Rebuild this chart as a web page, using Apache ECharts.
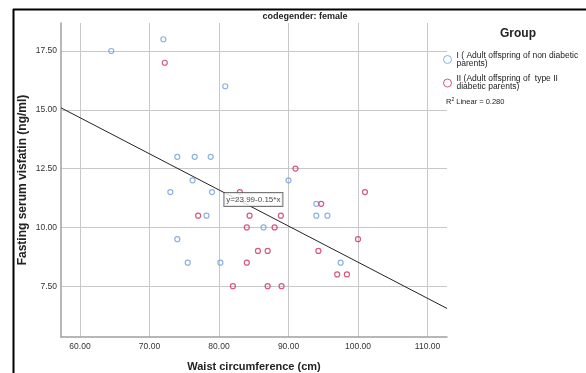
<!DOCTYPE html>
<html>
<head>
<meta charset="utf-8">
<script src="https://cdn.jsdelivr.net/npm/echarts@6/dist/echarts.min.js"></script>
<style>
html, body { margin: 0; padding: 0; background: #fff; }
#chart { width: 586px; height: 373px; }
</style>
</head>
<body>
<div id="chart"></div>
<script>
// data
var groupNames = ['I ( Adult offspring of non diabetic\nparents)', 'II (Adult offspring of  type II\ndiabetic parents)'];
var groupI = [
    [64.5, 17.5], [72.0, 18.0], [80.9, 16.0], [74.0, 13.0], [76.5, 13.0], [78.8, 13.0],
    [76.2, 12.0], [73.0, 11.5], [79.0, 11.5], [78.2, 10.5], [74.0, 9.5], [75.5, 8.5],
    [80.2, 8.5], [90.0, 12.0], [94.0, 11.0], [94.0, 10.5], [95.6, 10.5], [86.4, 10.0],
    [97.5, 8.5]
];
var groupII = [
    [72.2, 17.0], [77.0, 10.5], [82.0, 7.5], [91.0, 12.5], [83.0, 11.5], [101.0, 11.5],
    [94.7, 11.0], [84.4, 10.5], [88.9, 10.5], [84.0, 10.0], [88.0, 10.0], [100.0, 9.5],
    [85.6, 9.0], [87.0, 9.0], [94.3, 9.0], [84.0, 8.5], [97.0, 8.0], [98.4, 8.0],
    [87.0, 7.5], [89.0, 7.5]
];
var xTicks = [60, 70, 80, 90, 100, 110];
var yTicks = [7.5, 10, 12.5, 15, 17.5];
var xRange = [57.27, 112.8];
var yRange = [5.34, 18.69];
var fitIntercept = 23.88;
var fitSlope = -0.1536;
var fitLabelX = 80.7;
var fitLabel = 'y=23.99-0.15*x';
var r2Value = '0.280';

var colors = ['#6f9fd8', '#cc2f5c'];
var narrow = '"Liberation Sans", Arial, sans-serif';

function fitY(x) { return fitIntercept + fitSlope * x; }

var chart = echarts.init(document.getElementById('chart'));

var option = {
    animation: false,
    textStyle: { fontFamily: narrow },
    grid: { left: 61, top: 23, right: 139, bottom: 36, outerBoundsMode: 'none' },
    title: {
        text: 'codegender: female',
        left: 300,
        top: 7,
        textAlign: 'center',
        textStyle: { fontSize: 9, fontWeight: 'bold', color: '#222', fontFamily: narrow }
    },
    legend: {
        orient: 'vertical',
        left: 443,
        top: 51,
        padding: 0,
        itemGap: 6.5,
        itemWidth: 8,
        itemHeight: 8,
        icon: 'circle',
        selectedMode: false,
        itemStyle: { color: 'transparent', borderWidth: 1 },
        textStyle: { fontSize: 8.5, lineHeight: 8, color: '#222', fontFamily: narrow },
        data: groupNames
    },
    xAxis: {
        type: 'value',
        min: xRange[0],
        max: xRange[1],
        name: 'Waist circumference (cm)',
        nameLocation: 'middle',
        nameGap: 24,
        nameMoveOverlap: false,
        nameTextStyle: { fontSize: 11, fontWeight: 'bold', color: '#222' },
        axisLine: { show: true, lineStyle: { color: '#a0a0a0', width: 1.5 } },
        axisTick: { show: false, customValues: xTicks },
        axisLabel: {
            customValues: xTicks,
            fontSize: 8.5,
            color: '#333',
            margin: 5,
            formatter: function (v) { return v.toFixed(2); }
        },
        splitLine: { show: true, lineStyle: { color: '#c8c8c8', width: 1 } }
    },
    yAxis: {
        type: 'value',
        min: yRange[0],
        max: yRange[1],
        name: 'Fasting serum visfatin (ng/ml)',
        nameLocation: 'middle',
        nameGap: 32,
        nameMoveOverlap: false,
        nameTextStyle: { fontSize: 12, fontWeight: 'bold', color: '#222' },
        axisLine: { show: true, lineStyle: { color: '#a0a0a0', width: 1.5 } },
        axisTick: { show: false, customValues: yTicks },
        axisLabel: {
            customValues: yTicks,
            fontSize: 8.5,
            color: '#333',
            margin: 4,
            formatter: function (v) { return v.toFixed(2); }
        },
        splitLine: { show: true, lineStyle: { color: '#c8c8c8', width: 1 } }
    },
    series: [
        {
            name: groupNames[0],
            type: 'scatter',
            symbol: 'circle',
            symbolSize: 5,
            itemStyle: { color: 'transparent', borderColor: colors[0], borderWidth: 1.2 },
            data: groupI
        },
        {
            name: groupNames[1],
            type: 'scatter',
            symbol: 'circle',
            symbolSize: 5,
            itemStyle: { color: 'transparent', borderColor: colors[1], borderWidth: 1.2 },
            data: groupII
        },
        {
            name: 'fit',
            type: 'line',
            showSymbol: false,
            silent: true,
            lineStyle: { color: '#222', width: 1 },
            data: [[xRange[0], fitY(xRange[0])], [xRange[1], fitY(xRange[1])]]
        },
        {
            name: 'fitLabel',
            type: 'scatter',
            symbolSize: 1,
            z: 10,
            itemStyle: { color: 'transparent' },
            label: {
                show: true,
                position: [0, 0],
                offset: [1, 1],
                formatter: fitLabel,
                fontSize: 8,
                color: '#111',
                backgroundColor: '#fff',
                borderColor: '#555',
                borderWidth: 1,
                padding: [3, 2, 2, 2]
            },
            data: [[fitLabelX, fitY(fitLabelX)]]
        }
    ],
    graphic: [
        {
            type: 'line',
            shape: { x1: 13, y1: 9.5, x2: 586, y2: 9.5 },
            style: { stroke: '#000', lineWidth: 2 }
        },
        {
            type: 'line',
            shape: { x1: 13.5, y1: 9, x2: 13.5, y2: 373 },
            style: { stroke: '#000', lineWidth: 2 }
        },
        {
            type: 'text',
            left: 500,
            top: 28,
            style: { text: 'Group', fontSize: 12, fontWeight: 'bold', fill: '#222', fontFamily: narrow }
        },
        {
            type: 'text',
            left: 446,
            top: 97,
            style: {
                text: '{n|R}{s|2}{n| Linear = ' + r2Value + '}',
                rich: {
                    n: { fontSize: 7.5, fill: '#222', fontFamily: narrow },
                    s: { fontSize: 5, fill: '#222', fontFamily: narrow, padding: [0, 0, 4, 0] }
                }
            }
        }
    ]
};

chart.setOption(option);
</script>
</body>
</html>
